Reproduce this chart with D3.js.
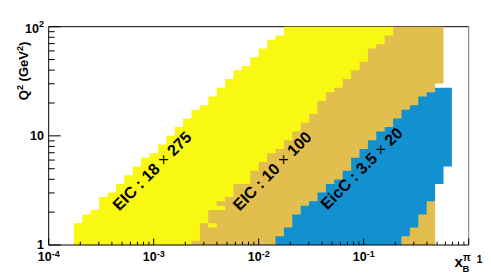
<!DOCTYPE html>
<html><head><meta charset="utf-8">
<script src="https://cdn.jsdelivr.net/npm/d3@7"></script>
<style>html,body{margin:0;padding:0;background:#fff;} svg{display:block;}</style>
</head><body>
<svg id="c" width="491" height="273"></svg>
<script>
// ---- histogram binning: [nBins, min, max] (log bins) ----
const xBinning = [50, 1e-4, 1];
const yBinning = [50, 1, 100];

// ---- EIC 18 x 275 : per x-bin Q2 range, starting at x-bin with low edge yellowXFrom ----
const yellowXFrom = 1.74e-4;
const yellowQ2Max = [1.585, 1.905, 2.089, 2.754, 3.02, 3.631, 4.365, 5.248, 6.31, 6.918, 8.318,
  10.0, 12.02, 14.45, 17.38, 19.05, 22.91, 27.54, 33.11, 39.81, 43.65, 52.48, 63.1, 75.86, 83.18,
  100, 100, 100, 100, 100, 100, 100, 100, 100, 100, 100, 100, 100];
const yellowQ2Min = [1,1,1,1,1,1,1,1,1,1,1,1,1,1,1,1,1,1,1,1,1,1,1,1,1,1,1,1,1,1,1,1,1,1,1,1,1,1];
const yellowEmpty = [];

// ---- EIC 10 x 100 ----
const tanXFrom = 2.29e-3;
const tanQ2Max = [1.096, 1.585, 2.089, 2.512, 2.754, 3.631, 3.631, 4.786, 5.754, 6.918, 7.586,
  9.12, 10.96, 13.18, 15.85, 20.89, 25.12, 27.54, 33.11, 39.81, 47.86, 63.1, 69.18, 83.18,
  100, 100, 100, 100, 100, 100];
const tanQ2Min = [1,1,1,1,1,1,1,1,1,1,1,1,1,1,1,1,1,1,1,1,1,1,1,1,1,1,1,1,1,30.2];
const tanEmpty = [[3.63e-3, 1.514], [4.37e-3, 2.188]];   // [x_B, Q2] of empty bins

// ---- EicC 3.5 x 20 ----
const blueXFrom = 1.445e-2;
const blueQ2Max = [1.202, 1.445, 1.905, 2.291, 2.512, 3.02, 3.631, 3.981, 4.786, 6.31, 7.586,
  9.12, 10.96, 12.02, 14.45, 17.38, 19.05, 22.91, 25.12, 27.54, 27.54];
const blueQ2Min = [1,1,1,1,1,1,1,1,1,1,1,1,1,1,1,1.202,1.445,1.905,2.512,3.631,5.248];
const blueEmpty = [];

// ---- labels / ticks ----
const regionNames = ["EIC : 18 × 275", "EIC : 10 × 100", "EicC : 3.5 × 20"];
const regionColors = ["#f8f812", "#e2be4e", "#1290d0"];
const labelX = [4.7e-4, 6.55e-3, 4.5e-2];
const labelQ2 = [2.03, 2.03, 2.07];
const xMajorTicks = [1e-4, 1e-3, 1e-2, 1e-1, 1];
const xTickLabels = ["10^-4", "10^-3", "10^-2", "10^-1", "1"];
const yMajorTicks = [1, 10, 100];
const yTickLabels = ["1", "10", "10^2"];

const FONT = "'Liberation Sans', Arial, Helvetica, sans-serif";
const L = 48.7, R = 468.7, T = 26.7, B = 245;
const x = d3.scaleLog().domain([xBinning[1], xBinning[2]]).range([L, R]);
const y = d3.scaleLog().domain([yBinning[1], yBinning[2]]).range([B, T]);

function edges(b) { const [n, lo, hi] = b; const a = Math.log10(lo), s = (Math.log10(hi) - a) / n;
  return d3.range(n + 1).map(i => Math.pow(10, a + i * s)); }
function edgeIdx(b, v) { const [n, lo, hi] = b;
  return Math.round((Math.log10(v) - Math.log10(lo)) / (Math.log10(hi) - Math.log10(lo)) * n); }
function binIdx(b, v) { const [n, lo, hi] = b;
  return Math.floor((Math.log10(v) - Math.log10(lo)) / (Math.log10(hi) - Math.log10(lo)) * n); }
const xE = edges(xBinning), yE = edges(yBinning);

function regionPath(xFrom, qMin, qMax, empty) {
  const i0 = edgeIdx(xBinning, xFrom);
  const holes = new Set(empty.map(([xv, qv]) => binIdx(xBinning, xv) + "," + binIdx(yBinning, qv)));
  let d = "";
  qMax.forEach((qm, k) => {
    const i = i0 + k, jlo = edgeIdx(yBinning, qMin[k]), jhi = edgeIdx(yBinning, qm);
    let start = null;
    for (let j = jlo; j <= jhi; j++) {
      const filled = j < jhi && !holes.has(i + "," + j);
      if (filled && start === null) start = j;
      if (!filled && start !== null) {
        const x0 = x(xE[i]), x1 = x(xE[i + 1]), y0 = y(yE[start]), y1 = y(yE[j]);
        d += `M${x0},${y0}V${y1}H${x1}V${y0}Z`;
        start = null;
      }
    }
  });
  return d;
}

const svg = d3.select("#c");
svg.append("rect").attr("width", 491).attr("height", 273).attr("fill", "#fff");

// top frame line (under fills)
svg.append("line").attr("x1", L).attr("x2", R).attr("y1", T).attr("y2", T)
  .attr("stroke", "#000").attr("stroke-width", 1);

const regions = [
  [yellowXFrom, yellowQ2Min, yellowQ2Max, yellowEmpty],
  [tanXFrom, tanQ2Min, tanQ2Max, tanEmpty],
  [blueXFrom, blueQ2Min, blueQ2Max, blueEmpty]
];
regions.forEach((r, k) => {
  svg.append("path").attr("d", regionPath(...r)).attr("fill", regionColors[k]);
});

// region labels
regionNames.forEach((name, k) => {
  const px = x(labelX[k]), py = y(labelQ2[k]);
  const t = svg.append("text").attr("x", px).attr("y", py)
    .attr("transform", `rotate(-45,${px},${py})`)
    .attr("font-family", FONT).attr("font-weight", "bold").attr("font-size", 16).attr("fill", "#000");
  const parts = name.split("×");
  t.append("tspan").text(parts[0]);
  t.append("tspan").attr("font-weight", "normal").text("×");
  t.append("tspan").text(parts[1]);
});

// axes lines
svg.append("line").attr("x1", L).attr("x2", L).attr("y1", T).attr("y2", B).attr("stroke", "#000");
svg.append("line").attr("x1", L).attr("x2", R).attr("y1", B).attr("y2", B).attr("stroke", "#000");
svg.append("line").attr("x1", R).attr("x2", R).attr("y1", T).attr("y2", B).attr("stroke", "#777");

// ticks
const isMajor = v => Math.abs(Math.log10(v) - Math.round(Math.log10(v))) < 1e-9;
x.ticks().forEach(v => {
  const len = isMajor(v) ? 6.5 : 3.3;
  svg.append("line").attr("x1", x(v)).attr("x2", x(v)).attr("y1", B).attr("y2", B - len)
    .attr("stroke", "#000").attr("stroke-width", 1);
});
y.ticks().forEach(v => {
  const len = isMajor(v) ? 12 : 6;
  svg.append("line").attr("x1", L).attr("x2", L + len).attr("y1", y(v)).attr("y2", y(v))
    .attr("stroke", "#000").attr("stroke-width", 1);
});

// tick labels
function addLabel(sel, lab, supSize, supDy) {
  const [base, exp] = lab.split("^");
  sel.append("tspan").text(base);
  if (exp !== undefined) sel.append("tspan").attr("font-size", supSize).attr("dy", supDy).text(exp);
}
xMajorTicks.forEach((v, k) => {
  const lab = xTickLabels[k];
  if (lab.indexOf("^") < 0) {
    svg.append("text").attr("x", x(v) + 8).attr("y", 263.3)
      .attr("font-family", FONT).attr("font-weight", "bold").attr("font-size", 10).text(lab);
    return;
  }
  const t = svg.append("text").attr("x", x(v)).attr("y", 261).attr("text-anchor", "middle")
    .attr("font-family", FONT).attr("font-weight", "bold").attr("font-size", 12.5);
  addLabel(t, lab, 9, -4.5);
});
yMajorTicks.forEach((v, k) => {
  const lab = yTickLabels[k];
  const hasExp = lab.indexOf("^") >= 0;
  const t = svg.append("text").attr("x", 44).attr("y", y(v) + (hasExp ? 6.6 : 4.4))
    .attr("text-anchor", "end")
    .attr("font-family", FONT).attr("font-weight", "bold").attr("font-size", 12.5);
  addLabel(t, lab, 9, -6.5);
});

// axis titles
const yt = svg.append("text").attr("x", 28.3).attr("y", 41.7)
  .attr("transform", "rotate(-90,28.3,41.7)").attr("text-anchor", "end")
  .attr("font-family", FONT).attr("font-weight", "bold").attr("font-size", 13);
yt.append("tspan").text("Q");
yt.append("tspan").attr("font-size", 9).attr("dy", -5.5).text("2");
yt.append("tspan").attr("dy", 5.5).text(" (GeV");
yt.append("tspan").attr("font-size", 9).attr("dy", -5.5).text("2");
yt.append("tspan").attr("dy", 5.5).text(")");

svg.append("text").attr("x", 454.5).attr("y", 267.3)
  .attr("font-family", FONT).attr("font-weight", "bold").attr("font-size", 15).text("x");
svg.append("text").attr("x", 462.5).attr("y", 272)
  .attr("font-family", FONT).attr("font-weight", "bold").attr("font-size", 9.5).text("B");
svg.append("text").attr("x", 463).attr("y", 261)
  .attr("font-family", FONT).attr("font-weight", "bold").attr("font-size", 10).text("π");
</script>
</body></html>
